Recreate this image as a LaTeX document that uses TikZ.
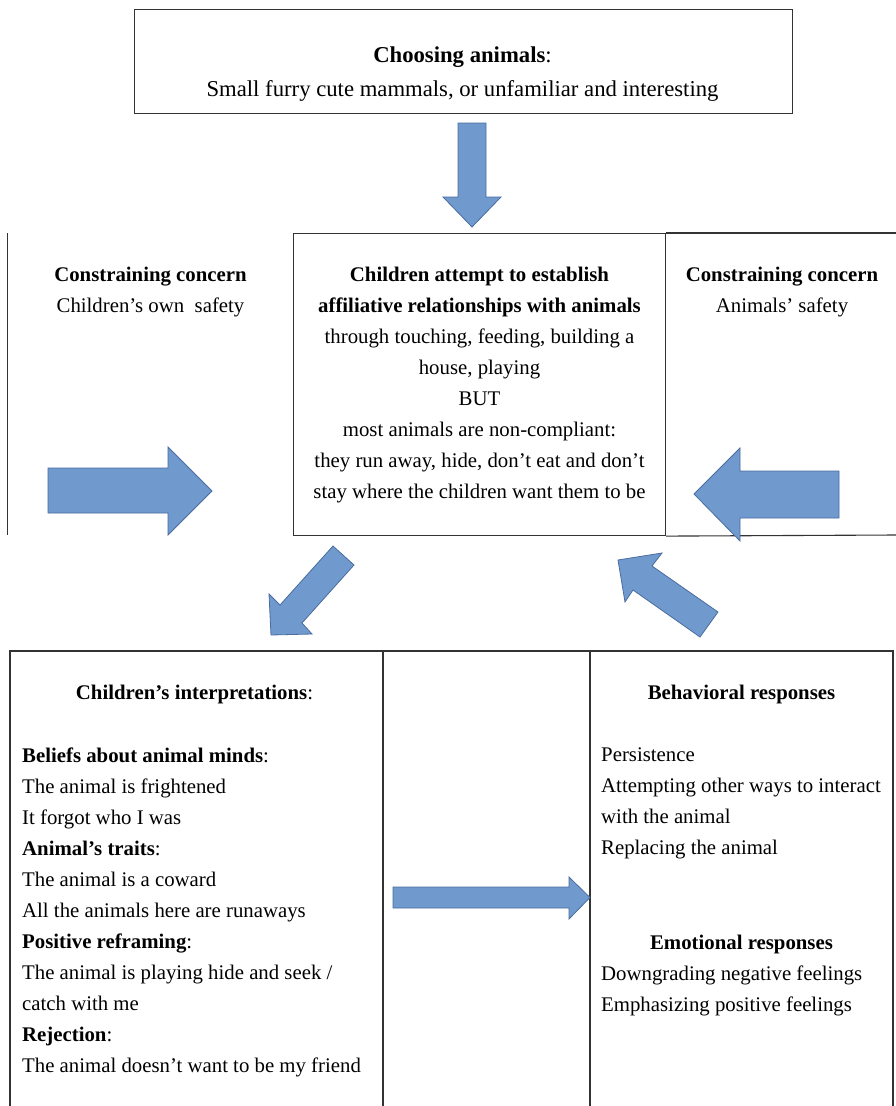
\documentclass[tikz,border=0pt]{standalone}
\usepackage{fontspec}
\setmainfont{Liberation Serif}
\begin{document}
\begin{tikzpicture}[x=1pt,y=-1pt,
  boxline/.style={draw=black!80,line width=1.1pt},
  blockarrow/.style={fill={rgb,255:red,112;green,153;blue,206},draw={rgb,255:red,74;green,108;blue,158},line width=0.8pt,line join=miter},
  txt/.style={inner sep=0pt,font=\fontsize{20.8}{31}\selectfont},
  ctxt/.style={inner sep=0pt,font=\fontsize{20.8}{30.9}\selectfont},
  bigtxt/.style={inner sep=0pt,font=\fontsize{22.7}{34}\selectfont},
]
\useasboundingbox (0,0) rectangle (896,1106);

% top box
\node[boxline,anchor=north west,minimum width=658pt,minimum height=104pt,inner sep=0pt] (topbox) at (134,9) {};
\node[bigtxt,anchor=base] (choose) at (462.5,62) {\textbf{Choosing animals}:};
\node[bigtxt,anchor=base] (chooseb) at (462.5,96) {Small furry cute mammals, or unfamiliar and interesting};

% down arrow
\draw[blockarrow] (458,123) -- (486,123) -- (486,197) -- (501,197) -- (472,227) -- (443,197) -- (458,197) -- cycle;

% middle row
\draw[boxline] (7.5,233) -- (7.5,535);
\node[boxline,anchor=north west,minimum width=372pt,minimum height=302pt,inner sep=0pt] (center) at (293,233) {};
\draw[boxline] (center.north east) -- (896,233);
\draw[boxline] (center.south east) -- (896,535);

\node[txt,align=center,anchor=base] (leftc) at (150.5,312) {\textbf{Constraining concern}\\Children’s own\ \ safety};
\node[txt,align=center,anchor=base] (rightc) at (782,312) {\textbf{Constraining concern}\\Animals’ safety};
\node[ctxt,align=center,anchor=base] (centert) at (479.5,498) {\textbf{Children attempt to establish}\\
\textbf{affiliative relationships with animals}\\
through touching, feeding, building a\\
house, playing\\
BUT\\
most animals are non-compliant:\\
they run away, hide, don’t eat and don’t\\
stay where the children want them to be};

% side arrows
\draw[blockarrow] (48,468) -- (168,468) -- (168,447) -- (212,491) -- (168,535) -- (168,513) -- (48,513) -- cycle;
\draw[blockarrow] (839,471) -- (740,471) -- (740,448) -- (694,494) -- (740,541) -- (740,518) -- (839,518) -- cycle;

% diagonal arrows
\draw[blockarrow] (333,546) -- (354,565) -- (302,623) -- (312,634) -- (271,635) -- (269,594) -- (280,605) -- cycle;
\draw[blockarrow] (618,560) -- (662,553) -- (652,566) -- (718,612) -- (700,637) -- (633,590) -- (625,602) -- cycle;

% bottom table
\draw[boxline] (10,1112) -- (10,651) -- (893,651) -- (893,1112);
\draw[boxline] (383,651) -- (383,1112);
\draw[boxline] (590,651) -- (590,1112);

\node[txt,anchor=base] (interp) at (194.5,699) {\textbf{Children’s interpretations}:};
\node[txt,align=left,anchor=base west] (interplist) at (22,1072) {\textbf{Beliefs about animal minds}:\\
The animal is frightened\\
It forgot who I was\\
\textbf{Animal’s traits}:\\
The animal is a coward\\
All the animals here are runaways\\
\textbf{Positive reframing}:\\
The animal is playing hide and seek /\\
catch with me\\
\textbf{Rejection}:\\
The animal doesn’t want to be my friend};

\node[txt,anchor=base] (behav) at (741.5,699) {\textbf{Behavioral responses}};
\node[txt,align=left,anchor=base west] (behavlist) at (601,854) {Persistence\\
Attempting other ways to interact\\
with the animal\\
Replacing the animal};
\node[txt,anchor=base] (emot) at (741.5,949) {\textbf{Emotional responses}};
\node[txt,align=left,anchor=base west] (emotlist) at (601,1011) {Downgrading negative feelings\\
Emphasizing positive feelings};

% bottom arrow
\draw[blockarrow] (393,887) -- (569,887) -- (569,877) -- (590,897.5) -- (569,919) -- (569,908) -- (393,908) -- cycle;
\end{tikzpicture}
\end{document}
